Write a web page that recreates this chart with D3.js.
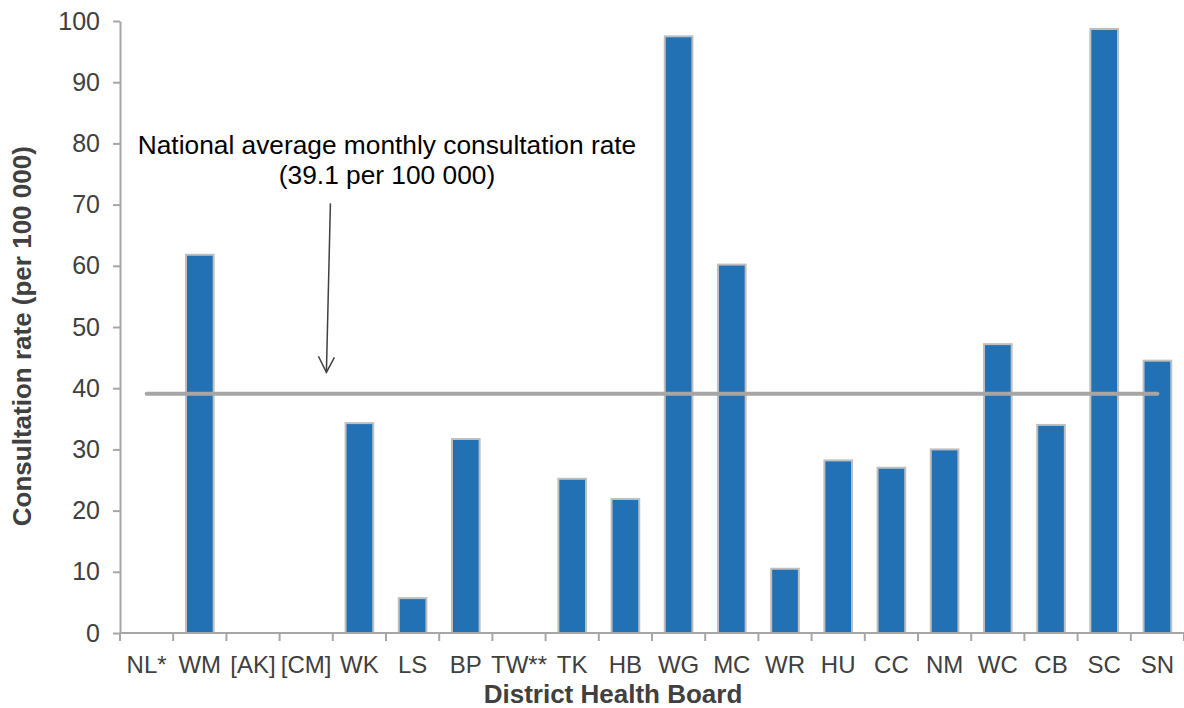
<!DOCTYPE html>
<meta charset="utf-8">
<script src="https://cdn.jsdelivr.net/npm/d3@7"></script>
<style>
    body { margin: 0; background: #fff; }
    text { font-family: "Liberation Sans", Arial, sans-serif; }
    .axis path, .axis line { stroke: #a6a6a6; stroke-width: 2; fill: none; }
    .axis text { fill: #404040; }
</style>
<body>
<div id="chart"></div>
<script>
    // district health boards, in chart order
    var boards = ["NL*", "WM", "[AK]", "[CM]", "WK", "LS", "BP", "TW**", "TK", "HB",
                  "WG", "MC", "WR", "HU", "CC", "NM", "WC", "CB", "SC", "SN"]
    // monthly consultation rate per 100 000 (null = no data)
    var rates = [null, 61.8, null, null, 34.3, 5.7, 31.7, null, 25.2, 21.9,
                 97.5, 60.2, 10.5, 28.2, 27.0, 30.0, 47.2, 34.0, 98.7, 44.5]
    var yTicks = [0, 10, 20, 30, 40, 50, 60, 70, 80, 90, 100]
    var nationalAvg = 39.1
    var noteLines = ["National average monthly consultation rate", "(39.1 per 100 000)"]

    var W = 1184, H = 708
    var padL = 120, padR = 1184, padT = 21, padB = 633

    var data = boards.map((b, i) => { return {board: b, rate: rates[i]} })

    var svg = d3.select("#chart").append("svg").attr("width", W).attr("height", H)

    var x = d3.scaleBand().domain(boards).range([padL, padR]).padding(0)
    var y = d3.scaleLinear().domain([0, 100]).range([padB, padT])
    var bw = x.bandwidth()
    var barW = bw * 0.52

    // y axis
    var yAxis = svg.append("g").attr("class", "axis").attr("transform", "translate(" + padL + ",0)")
        .call(d3.axisLeft(y).tickValues(yTicks).tickSize(7).tickPadding(13).tickSizeOuter(0))
    yAxis.selectAll("text").style("font-size", "25px")

    // bars
    svg.selectAll(".bar").data(data.filter(d => d.rate != null)).enter().append("rect")
        .attr("class", "bar")
        .attr("x", d => x(d.board) + (bw - barW) / 2)
        .attr("width", barW)
        .attr("y", d => y(d.rate))
        .attr("height", d => y(0) - y(d.rate))
        .style("fill", "#2271b5")
        .style("stroke", "#bfbfbf")
        .style("stroke-width", 2)

    // x axis (ticks between categories)
    var xAxis = svg.append("g").attr("class", "axis").attr("transform", "translate(0," + padB + ")")
    xAxis.append("line").attr("x1", padL).attr("x2", padR).attr("y1", 0).attr("y2", 0)
    xAxis.selectAll(".tk").data(boards.concat(["_end"])).enter().append("line")
        .attr("class", "tk")
        .attr("x1", (d, i) => i < boards.length ? x(d) : padR)
        .attr("x2", (d, i) => i < boards.length ? x(d) : padR)
        .attr("y1", 0).attr("y2", 8)
    xAxis.selectAll(".lbl").data(boards).enter().append("text")
        .attr("class", "lbl")
        .attr("x", d => x(d) + bw / 2)
        .attr("y", 40)
        .attr("text-anchor", "middle")
        .style("font-size", "24px")
        .text(d => d)

    // national average line
    svg.append("line")
        .attr("x1", x(boards[0]) + bw / 2)
        .attr("x2", x(boards[boards.length - 1]) + bw / 2)
        .attr("y1", y(nationalAvg)).attr("y2", y(nationalAvg))
        .style("stroke", "#a6a6a6").style("stroke-width", 4).style("stroke-linecap", "round")

    // annotation
    var noteX = x("LS") + 1
    svg.selectAll(".note").data(noteLines).enter().append("text")
        .attr("class", "note")
        .attr("x", noteX)
        .attr("y", (d, i) => y(78.2) + i * 30)
        .attr("text-anchor", "middle")
        .style("font-size", "26.3px")
        .style("fill", "#000")
        .text(d => d)

    var ax = x("[CM]") + bw * 0.88
    var ay0 = y(70.2), ay1 = y(42.6)
    svg.append("line").attr("x1", ax + 4).attr("y1", ay0).attr("x2", ax).attr("y2", ay1)
        .style("stroke", "#404040").style("stroke-width", 1.5)
    svg.append("path")
        .attr("d", "M" + (ax - 8) + "," + (ay1 - 16) + "L" + ax + "," + ay1 + "L" + (ax + 8) + "," + (ay1 - 15))
        .style("stroke", "#404040").style("stroke-width", 1.5).style("fill", "none")

    // axis titles
    svg.append("text")
        .attr("x", 613)
        .attr("y", 703)
        .attr("text-anchor", "middle")
        .style("font-size", "26px").style("font-weight", "bold").style("fill", "#404040")
        .text("District Health Board")
    svg.append("text")
        .attr("transform", "translate(31," + (y(48.5)) + ") rotate(-90)")
        .attr("text-anchor", "middle")
        .style("font-size", "26px").style("font-weight", "bold").style("fill", "#404040")
        .text("Consultation rate (per 100 000)")
</script>
</body>
</html>
